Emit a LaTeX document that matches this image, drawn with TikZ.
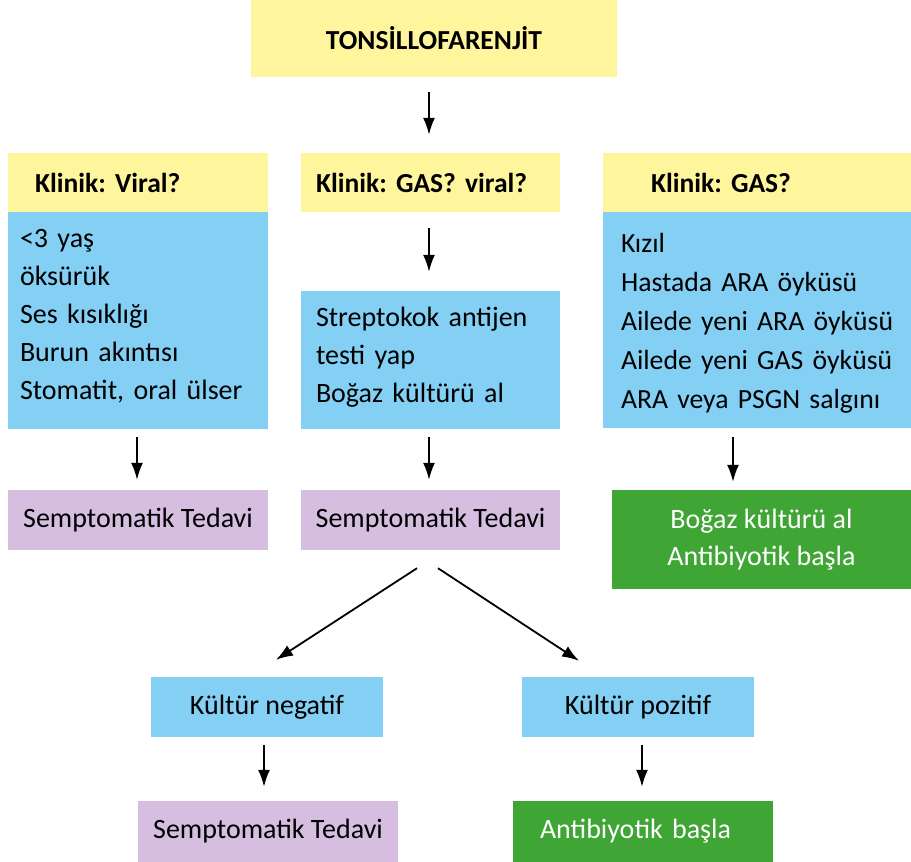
\documentclass[tikz,border=0pt]{standalone}
\usepackage{fontspec}
\setmainfont{Carlito}
\usetikzlibrary{arrows.meta}
\definecolor{sari}{HTML}{FFF59D}
\definecolor{mavi}{HTML}{84CFF4}
\definecolor{mor}{HTML}{D5BEDF}
\definecolor{yesil}{HTML}{3FA535}
\frenchspacing
\begin{document}
\begin{tikzpicture}[x=1pt, y=-1pt, >={Latex[length=17pt,width=12pt]},
  box/.style={rectangle, inner ysep=0pt, font=\fontsize{28}{38}\selectfont},
  head/.style={box, fill=sari, minimum height=59pt, font=\fontsize{27.5}{30}\selectfont\bfseries},
  liste/.style={box, fill=mavi, align=left},
  sonuc/.style={box, fill=mor, align=center, minimum height=60pt},
  tedavi/.style={box, fill=yesil, text=white, align=center},
  arr/.style={->, line width=1.8pt}]
  \useasboundingbox (0,0) rectangle (911,862);
  % top
  \node[head, minimum width=366pt, minimum height=77pt] (title) at (434,38.5) {TONSİLLOFARENJİT};
  % three columns
  \node[head, inner xsep=27pt, text width=206pt, align=left] (lhead) at (138,182.5) {Klinik: Viral?};
  \node[head, inner xsep=15pt, text width=229pt, align=left] (mhead) at (430.5,182.5) {Klinik: GAS? viral?};
  \node[head, inner xsep=48pt, text width=212pt, align=left] (rhead) at (757,182.5) {Klinik: GAS?};
  \node[liste, inner xsep=12pt, text width=236pt, minimum height=217pt,
    execute at end node={\par\kern8pt}] (lliste) at (138,320.5)
    {<3 yaş\\öksürük\\Ses kısıklığı\\Burun akıntısı\\Stomatit, oral ülser};
  \node[liste, inner xsep=15pt, text width=229pt, minimum height=138pt,
    execute at end node={\par\kern6pt}] (mliste) at (430.5,360)
    {Streptokok antijen\\testi yap\\Boğaz kültürü al};
  \node[liste, inner xsep=18pt, text width=272pt, minimum height=216pt,
    font=\fontsize{27.7}{39}\selectfont, execute at end node={\par\kern-6pt}] (rliste) at (757,320)
    {\mbox{Kızıl}\\\mbox{Hastada ARA öyküsü}\\\mbox{Ailede yeni ARA öyküsü}\\\mbox{Ailede yeni GAS öyküsü}\\\mbox{ARA veya PSGN salgını}};
  \node[sonuc, minimum width=260pt] (lsym) at (138,520) {Semptomatik Tedavi};
  \node[sonuc, minimum width=259pt] (msym) at (430.5,520) {Semptomatik Tedavi};
  \node[tedavi, minimum width=299pt, minimum height=99pt, font=\fontsize{28}{37}\selectfont] (rted) at (761.5,539.5)
    {Boğaz kültürü al\\Antibiyotik başla};
  % culture result
  \node[box, fill=mavi, minimum width=232pt, minimum height=60pt] (neg) at (267,707) {Kültür negatif};
  \node[box, fill=mavi, minimum width=232pt, minimum height=60pt] (pos) at (638,707) {Kültür pozitif};
  \node[sonuc, minimum width=260pt, minimum height=61pt] (bsym) at (268,831.5) {Semptomatik Tedavi};
  \node[tedavi, minimum height=61pt, inner xsep=27pt, text width=206pt, align=left] (bted) at (643,831.5) {Antibiyotik başla};
  % arrows
  \draw[arr] ([shift={(-5,15)}]title.south) -- ([shift={(-1.5,-18)}]mhead.north);
  \draw[arr] ([shift={(-1.5,16)}]mhead.south) -- ([shift={(-1.5,-19)}]mliste.north);
  \draw[arr] ([shift={(-1,8)}]lliste.south) -- ([shift={(-1,-10)}]lsym.north);
  \draw[arr] ([shift={(-1.5,8)}]mliste.south) -- ([shift={(-1.5,-10)}]msym.north);
  \draw[arr] ([shift={(-24,9)}]rliste.south) -- ([shift={(-28.5,-8)}]rted.north);
  \draw[arr] ([shift={(-13.5,18)}]msym.south) -- ([shift={(9,-17)}]neg.north);
  \draw[arr] ([shift={(7.5,18)}]msym.south) -- ([shift={(-59,-16)}]pos.north);
  \draw[arr] ([shift={(-3,8)}]neg.south) -- ([shift={(-4,-14)}]bsym.north);
  \draw[arr] ([shift={(4,8)}]pos.south) -- ([shift={(-1,-14)}]bted.north);
\end{tikzpicture}
\end{document}
